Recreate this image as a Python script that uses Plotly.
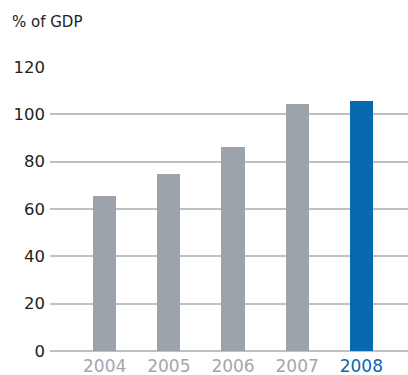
import plotly.graph_objects as go

# Public debt, % of GDP
years = ["2004", "2005", "2006", "2007", "2008"]
values = [65.5, 75.0, 86.0, 104.5, 105.5]
bar_colors = ["#9ca3aa", "#9ca3aa", "#9ca3aa", "#9ca3aa", "#0868b0"]
label_colors = ["#a1a7ad", "#a1a7ad", "#a1a7ad", "#a1a7ad", "#0868b0"]
y_ticks = [0, 20, 40, 60, 80, 100, 120]

fig = go.Figure(
    go.Bar(
        x=list(range(len(years))),
        y=values,
        marker=dict(color=bar_colors, line=dict(width=0)),
        width=0.36,
        hoverinfo="skip",
    )
)

fig.update_layout(
    width=408,
    height=375,
    margin=dict(l=50, r=0, t=67, b=24),
    paper_bgcolor="white",
    plot_bgcolor="white",
    font=dict(family="DejaVu Sans, sans-serif", color="#222222"),
    showlegend=False,
    title=dict(
        text="% of GDP",
        x=12 / 408,
        xanchor="left",
        xref="container",
        y=1 - 22 / 375,
        yanchor="middle",
        font=dict(size=15, color="#222222"),
    ),
    bargap=0,
)

fig.update_xaxes(
    range=[-0.852, 4.727],
    tickvals=list(range(len(years))),
    ticktext=[f"<span style='color:{c}'>{y}</span>" for y, c in zip(years, label_colors)],
    tickfont=dict(size=17),
    showgrid=False,
    zeroline=False,
    showline=False,
    ticks="",
    ticklabelstandoff=3,
    automargin=False,
    fixedrange=True,
)

fig.update_yaxes(
    range=[0, 120],
    tickvals=y_ticks,
    tickfont=dict(size=16.5, color="#222222"),
    showgrid=True,
    gridcolor="#bcc1c5",
    gridwidth=1.5,
    zeroline=True,
    zerolinecolor="#bcc1c5",
    zerolinewidth=1.5,
    showline=False,
    ticks="",
    ticklabelstandoff=4,
    automargin=False,
    fixedrange=True,
)

fig.write_html("out.html")
